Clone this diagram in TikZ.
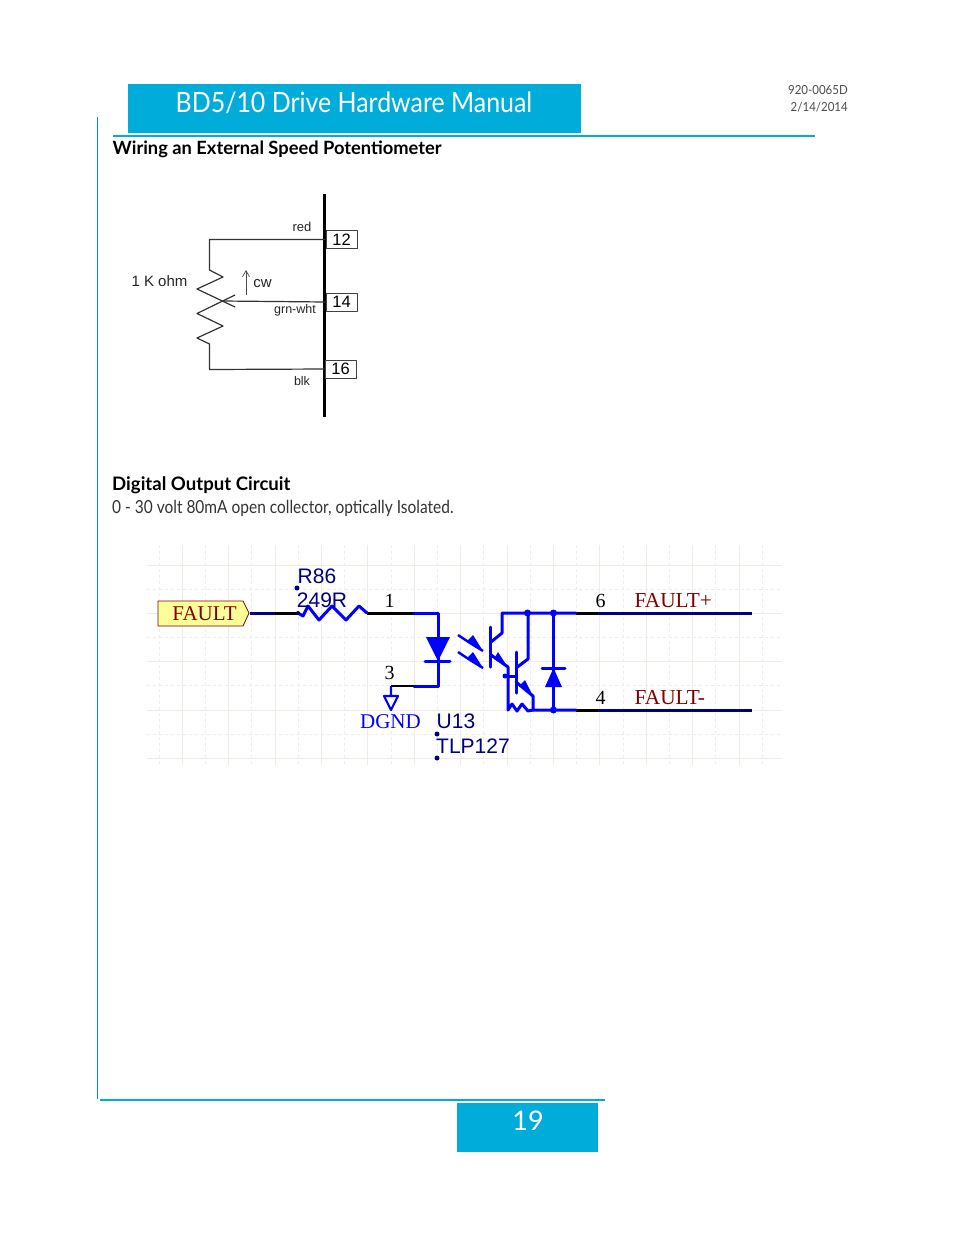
\documentclass[tikz,border=0pt]{standalone}
\usepackage{fontspec}
\usetikzlibrary{arrows.meta}
\setmainfont{Lato}
\newfontfamily\titlefont[FakeStretch=.89]{Lato}
\newfontfamily\subfont[FakeStretch=.86]{Lato}
\newfontfamily\datefont[FakeStretch=.92]{Lato}
\newfontfamily\arialfont{Liberation Sans}
\newfontfamily\timesfont{Liberation Serif}
\definecolor{manualblue}{HTML}{00ACD9}
\definecolor{pinblue}{HTML}{0000FF}
\definecolor{netnavy}{HTML}{000080}
\definecolor{gridgray}{HTML}{EDEDE6}
\definecolor{flagyellow}{HTML}{FFFF99}
\definecolor{flagred}{HTML}{800000}
\tikzset{
  potlabel/.style={font=\arialfont\fontsize{12.5}{12.5}\selectfont,text=black!85,inner sep=0pt},
  pinbox/.style={draw=black!75,line width=.8pt,minimum width=31pt,minimum height=18pt,inner sep=0pt,font=\arialfont\fontsize{16.5}{16.5}\selectfont},
  pinnum/.style={font=\timesfont\fontsize{20}{20}\selectfont,inner sep=0pt},
  netlabel/.style={font=\timesfont\fontsize{21.3}{21.3}\selectfont,text=flagred,inner sep=0pt,anchor=west},
  partlabel/.style={font=\arialfont\fontsize{21}{21}\selectfont,text=netnavy,inner sep=0pt},
  wire/.style={pinblue,line width=3pt,line cap=round,line join=round},
  netwire/.style={line width=3pt},
  partdot/.style={circle,fill=netnavy,inner sep=0pt,minimum size=5pt},
  joindot/.style={circle,fill=pinblue,inner sep=0pt,minimum size=7pt},
}
\begin{document}
\begin{tikzpicture}[x=1pt,y=-1pt,>=stealth,line join=round]
\useasboundingbox[fill=white] (0,0) rectangle (954,1235);
% page furniture
\fill[manualblue] (128,84) rectangle (581,133);
\node[text=white,font=\titlefont\fontsize{28}{28}\selectfont,inner sep=0pt] (title) at (354,103) {BD5/10 Drive Hardware Manual};
\node[anchor=east,inner sep=0pt,text=black!70,font=\datefont\fontsize{12.5}{13}\selectfont] (docnum) at (848,90) {920-0065D};
\node[anchor=east,inner sep=0pt,text=black!70,font=\datefont\fontsize{12.5}{13}\selectfont] (docdate) at (848,107) {2/14/2014};
\draw[manualblue,line width=1.6pt] (113,136)--(815,136);
\draw[manualblue!85!black,line width=.9pt] (97.6,117)--(97.6,1099);
\draw[manualblue,line width=1.6pt] (100,1100)--(605,1100);
\fill[manualblue] (457,1103) rectangle (598,1152);
\node[text=white,font=\fontsize{27}{27}\selectfont,inner sep=0pt] (page) at (528,1121) {19};
\node[anchor=west,inner sep=0pt,font=\bfseries\fontsize{18.3}{18}\selectfont] (wiringhead) at (112.5,149) {Wiring an External Speed Potentiometer};
\node[anchor=west,inner sep=0pt,font=\bfseries\fontsize{18.6}{18}\selectfont] (outhead) at (112,485) {Digital Output Circuit};
\node[anchor=west,inner sep=0pt,text=black!80,font=\subfont\fontsize{18}{18}\selectfont] (outsub) at (112,508) {0 - 30 volt 80mA open collector, optically Isolated.};
% potentiometer
\draw[line width=3pt] (324.7,194)--(324.7,417);
\node[pinbox] (p12) at (341.5,239.5) {12};
\node[pinbox] (p14) at (341.5,302) {14};
\node[pinbox] (p16) at (340.5,369) {16};
\draw[black!80,line width=1.2pt] (p12.west)--(209.5,239.5)--(209.5,270)--(223,277)--(197,289)--(235,307);
\draw[black!80,line width=1.2pt] (235,295)--(197,313.5)--(223,326)--(197,338)--(209.5,344)--(209.5,369.5)--(p16.west);
\draw[black!80,line width=1.2pt] (223,301)--(p14.west);
\draw[black!70,line width=.7pt,-{Straight Barb[length=6pt,width=7pt]}] (246,295)--(246,270);
\node[potlabel,font=\arialfont\fontsize{13}{13}\selectfont] (red) at (302,226.5) {red};
\node[potlabel,font=\arialfont\fontsize{15}{15}\selectfont] (cw) at (262.5,284) {cw};
\node[potlabel] (grnwht) at (295,310.5) {grn-wht};
\node[potlabel] (blk) at (302,381.5) {blk};
\node[potlabel,font=\arialfont\fontsize{15}{15}\selectfont] (ohm) at (159.5,281) {1 K ohm};
% grid
\foreach \i in {0,...,26}{
  \pgfmathsetmacro\gx{159+23.2*\i}
  \ifodd\i \draw[gridgray,line width=1pt] (\gx,545)--(\gx,765);
  \else \draw[gridgray,line width=1pt,dashed] (\gx,545)--(\gx,765); \fi
}
\foreach \gy in {565,613,661,710,758} \draw[gridgray,line width=1pt] (147,\gy)--(782,\gy);
\foreach \gy in {589,637,685,734} \draw[gridgray,line width=1pt,dashed] (147,\gy)--(782,\gy);
% output circuit
\draw[flagred,fill=flagyellow,line width=.8pt] (158,601)--(243,601)--(249,613)--(243,626)--(158,626)--cycle;
\node[font=\timesfont\fontsize{21}{21}\selectfont,text=flagred,inner sep=0pt] (fault) at (204.5,613.5) {FAULT};
\coordinate (faultend) at (250,613);
\coordinate (pin1) at (414,613);
\coordinate (pin3) at (414,686);
\coordinate (pin6) at (576,613);
\coordinate (pin4) at (576,710);
\draw[netwire,netnavy] (faultend)--(275,613);
\draw[netwire] (275,613)--(298,613) (367,613)--(pin1) (pin6)--(598,613) (pin4)--(598,710);
\draw[netwire,netnavy] (598,613)--(752,613) (598,710)--(752,710);
\draw[wire] (298,613)--(303,616)--(308,606)--(319,620)--(332,606)--(346,620)--(359,606)--(367,613);
\draw[wire] (pin1)--(438,613)--(438,686)--(pin3);
\fill[pinblue] (426,637)--(450,637)--(438,661)--cycle;
\draw[wire] (425,661)--(450,661);
\draw[black,line width=1.6pt] (pin3)--(391,686);
\draw[pinblue,line width=2.2pt] (391,686)--(391,696) (384,696)--(398,696)--(391,710)--cycle;
\node[pinnum] (n1) at (389.5,600.5) {1};
\node[pinnum] (n3) at (389.5,673) {3};
\node[pinnum] (n6) at (600.5,600.5) {6};
\node[pinnum] (n4) at (600.5,697.5) {4};
\node[netlabel] (faultp) at (634.5,600.5) {FAULT+};
\node[netlabel] (faultm) at (634.5,698) {FAULT-};
\node[font=\timesfont\fontsize{21}{21}\selectfont,text=pinblue,inner sep=0pt] (dgnd) at (390.5,722) {DGND};
\node[partlabel] (r86) at (317,576) {R86};
\node[partlabel] (r249) at (322,600) {249R};
\node[partlabel] (u13) at (456,721) {U13};
\node[partlabel] (tlp) at (473,746) {TLP127};
\node[partdot] at (297,588) {};
\node[partdot,minimum size=4pt] at (298,613) {};
\node[partdot] at (437,734) {};
\node[partdot] at (437,758) {};
% coupler
\draw[wire] (490,627)--(490,667);
\draw[wire] (491,642)--(502,633)--(502,613)--(pin6);
\draw[wire] (491,655)--(508,667)--(508,710)--(512,704)--(517,711)--(522,704)--(528,711)--(533,710);
\draw[wire] (505,676)--(516,676);
\draw[wire] (516,652)--(516,693);
\draw[wire] (516,668)--(528,659)--(528,613);
\draw[wire] (516,682)--(533,696)--(533,710)--(pin4);
\fill[pinblue] (494,659)--(498,652)--(507,666)--cycle;
\fill[pinblue] (519,686)--(525,680)--(532,694)--cycle;
\foreach \ly in {635,652}{
  \draw[pinblue,line width=2.4pt] (458,\ly)--(470,\ly+8);
  \fill[pinblue] (467,\ly+6)--(473,\ly)--(483,\ly+16)--cycle;
  \draw[pinblue,line width=2.4pt] (470,\ly+8)--(483,\ly+16);
}
\draw[wire] (553.5,613)--(553.5,710);
\draw[wire] (542,668)--(565,668);
\fill[pinblue] (545,687)--(562,687)--(553.5,668)--cycle;
\node[joindot] at (527.5,613) {};
\node[joindot] at (553.5,613) {};
\node[joindot] at (553.5,710) {};
\node[joindot,minimum size=5pt] at (505,676) {};
\end{tikzpicture}
\end{document}
